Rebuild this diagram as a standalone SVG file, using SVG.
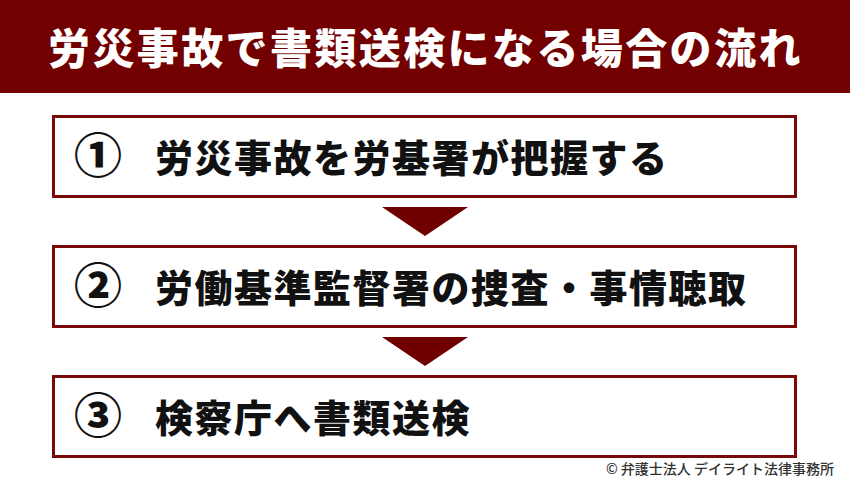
<svg xmlns="http://www.w3.org/2000/svg" width="850" height="485" viewBox="0 0 850 485">
<style>
.box{fill:#ffffff;stroke:#7a0a0a;stroke-width:3}
.arrow{fill:#700000}
.t{font-family:"Noto Sans CJK JP","Noto Sans",sans-serif;font-weight:900;fill:#111}
.num{font-size:48px}
.lbl{font-size:38px;letter-spacing:1.5px}
.title{font-family:"Noto Sans CJK JP","Noto Sans",sans-serif;font-weight:900;fill:#ffffff;font-size:42px;letter-spacing:2.4px}
.copy{font-family:"Noto Sans CJK JP","Noto Sans",sans-serif;font-size:14px;font-weight:500;fill:#333}
</style>
<rect width="850" height="485" fill="#ffffff"/>
<g id="header">
<rect x="0" y="0" width="850" height="93" fill="#720000"/>
<text class="title" x="48" y="64">労災事故で書類送検になる場合の流れ</text>
</g>
<g id="step1">
<rect class="box" x="53.5" y="116.5" width="742" height="80"/>
<text class="t num" x="98" y="173" text-anchor="middle">①</text>
<text class="t lbl" x="155" y="172">労災事故を労基署が把握する</text>
</g>
<g id="step2">
<rect class="box" x="53.5" y="246.5" width="742" height="80"/>
<text class="t num" x="98" y="303" text-anchor="middle">②</text>
<text class="t lbl" x="155" y="302">労働基準監督署の捜査・事情聴取</text>
</g>
<g id="step3">
<rect class="box" x="53.5" y="376.5" width="742" height="80"/>
<text class="t num" x="98" y="433" text-anchor="middle">③</text>
<text class="t lbl" x="155" y="432">検察庁へ書類送検</text>
</g>
<g id="connectors">
<polygon class="arrow" points="382,207 468,207 425,236"/>
<polygon class="arrow" points="382,337 468,337 425,366"/>
</g>
<text class="copy" x="834" y="474" text-anchor="end">© 弁護士法人 デイライト法律事務所</text>
</svg>
